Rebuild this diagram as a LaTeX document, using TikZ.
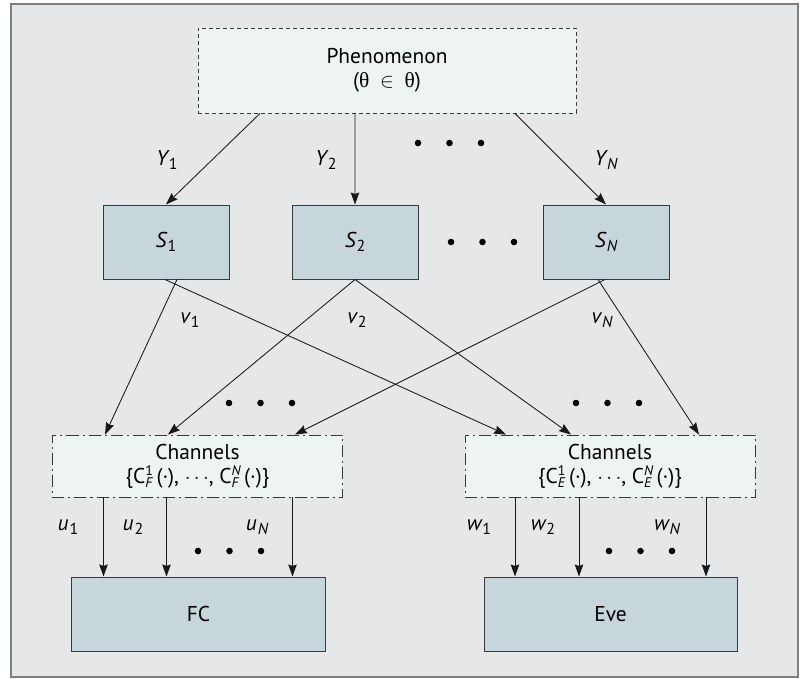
\documentclass[tikz,border=0pt]{standalone}
\usepackage{fontspec}
\setmainfont{PT Sans}
\newfontfamily\grk{Liberation Serif}
\usetikzlibrary{arrows.meta}

\definecolor{bggray}{HTML}{E6E7E8}
\definecolor{framegray}{HTML}{7F7F7F}
\definecolor{lightfill}{HTML}{EEF3F4}
\definecolor{boxfill}{HTML}{C6D6DA}
\definecolor{edge}{HTML}{3A3A3A}

% italic letter with index
\newcommand{\idx}[2]{{\itshape #1}\kern1bp\raisebox{-4.5bp}{\fontsize{16}{16}\selectfont #2}}
% super- and subscript stacked
\newcommand{\supsub}[2]{\begingroup
  \setbox0\hbox{\raisebox{8bp}{\fontsize{14}{14}\selectfont #1}}%
  \setbox2\hbox{\raisebox{-4bp}{\fontsize{14}{14}\selectfont #2}}%
  \ifdim\wd0>\wd2 \rlap{\box2}\box0\else\rlap{\box0}\box2\fi\endgroup}
\newcommand{\chset}[1]{\{C\supsub{1}{\itshape #1}\,(·), $\cdots$, C\supsub{\itshape N}{\itshape #1}\,(·)\}}
% three dots in a row
\newcommand{\dotrow}[2]{\foreach \k in {0,1,2} \fill (#1+\k*31.5,#2) circle (3.3bp);}

\begin{document}
\begin{tikzpicture}[
    x=1bp, y=-1bp,
    font=\fontsize{21.5}{24}\selectfont,
    cloud/.style={rectangle, draw=edge, fill=lightfill, line width=0.9bp,
                  dash pattern=on 4bp off 3bp, minimum width=378bp, minimum height=85bp,
                  align=center, inner sep=0pt},
    chan/.style={rectangle, draw=edge, fill=lightfill, line width=0.9bp,
                 dash pattern=on 12bp off 4bp on 2bp off 4bp, minimum width=290bp,
                 minimum height=62bp, align=center, inner sep=0pt},
    sensor/.style={rectangle, draw=edge, fill=boxfill, line width=1bp,
                   minimum width=126bp, minimum height=74bp, inner sep=0pt},
    sink/.style={rectangle, draw=edge, fill=boxfill, line width=1bp,
                 minimum width=253bp, minimum height=74bp, inner sep=0pt},
    lbl/.style={inner sep=0pt},
    arr/.style={-{Stealth[length=12bp, width=8.5bp, inset=1.5bp]}, line width=0.85bp, draw=black!90},
]
\useasboundingbox (0,0) rectangle (808,679);
\draw[draw=framegray, line width=1.6bp, fill=bggray] (11,4) rectangle (798,677);

% Source
\node[cloud] (phen) at (387,70.5) {Phenomenon\\({\grk θ}\enspace$\in$\enspace{\grk θ})};

% Sensors
\node[sensor] (s1) at (166,242) {\idx{S}{1}};
\node[sensor] (s2) at (355,242) {\idx{S}{2}};
\node[sensor] (sN) at (606,242) {\idx{S}{\itshape N}};

% Channels
\node[chan] (chF) at (197.5,466) {Channels\\\chset{F}};
\node[chan] (chE) at (610,466) {Channels\\\chset{E}};

% Receivers
\node[sink] (fc) at (198.5,614) {FC};
\node[sink] (eve) at (610.5,614) {Eve};

% Observations
\draw[arr] ([xshift=-127bp]phen.south) -- (s1.north);
\draw[arr] ([xshift=-32bp]phen.south) -- (s2.north);
\draw[arr] ([xshift=128bp]phen.south) -- (sN.north);
\node[lbl] (y1) at (167,160) {\idx{Y}{1}};
\node[lbl] (y2) at (326,160) {\idx{Y}{2}};
\node[lbl] (yN) at (606,160) {\idx{Y}{\itshape N}};

% Sensor outputs
\draw[arr] ([xshift=11bp]s1.south) -- ([xshift=-92.5bp]chF.north);
\draw[arr] ([xshift=-1bp]s1.south) -- ([xshift=-104bp]chE.north);
\draw[arr] (s2.south) -- ([xshift=-29.5bp]chF.north);
\draw[arr] (s2.south) -- ([xshift=-39bp]chE.north);
\draw[arr] ([xshift=-1bp]sN.south) -- ([xshift=97.5bp]chF.north);
\draw[arr] ([xshift=-8bp]sN.south) -- ([xshift=89bp]chE.north);
\node[lbl] (v1) at (190,320) {\idx{v}{1}};
\node[lbl] (v2) at (357,320) {\idx{v}{2}};
\node[lbl] (vN) at (602,320) {\idx{v}{\itshape N}};

% Channel outputs
\foreach \dx in {-94,-31,95}
  \draw[arr] ([xshift=\dx bp]chF.south) -- ([xshift=\dx bp]chF.south |- fc.north);
\foreach \dx in {-95,-31,96}
  \draw[arr] ([xshift=\dx bp]chE.south) -- ([xshift=\dx bp]chE.south |- eve.north);
\node[lbl] (u1) at (68,527) {\idx{u}{1}};
\node[lbl] (u2) at (133,527) {\idx{u}{2}};
\node[lbl] (uN) at (257,527) {\idx{u}{\itshape N}};
\node[lbl] (w1) at (479,527) {\idx{w}{1}};
\node[lbl] (w2) at (543,527) {\idx{w}{2}};
\node[lbl] (wN) at (667,527) {\idx{w}{\itshape N}};

% Ellipses
\dotrow{418}{143}
\dotrow{451}{242}
\dotrow{229}{403}
\dotrow{576}{403}
\dotrow{198}{551}
\dotrow{609}{551}
\end{tikzpicture}
\end{document}
